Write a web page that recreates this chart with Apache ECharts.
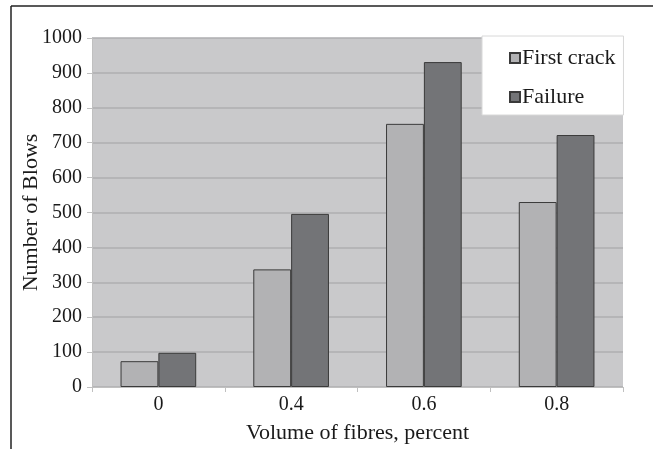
<!DOCTYPE html>
<html><head><meta charset="utf-8">
<script src="https://cdn.jsdelivr.net/npm/echarts@6/dist/echarts.min.js"></script>
<style>html,body{margin:0;padding:0;background:#fff}#c{width:653px;height:449px}</style>
</head><body><div id="c"></div>
<script>
const categories = ['0', '0.4', '0.6', '0.8'];
const firstCrack = [74, 337, 754, 530];
const failure = [98, 496, 931, 722];
const seriesNames = ['First crack', 'Failure'];
const FONT = 'Liberation Serif';
const FS_TICK = 20;
const FS_TEXT = 22;

const chart = echarts.init(document.getElementById('c'), null, {renderer: 'canvas'});
chart.setOption({
  animation: false,
  backgroundColor: '#fff',
  textStyle: {fontFamily: FONT},
  graphic: [
    {type: 'line', shape: {x1: 11, y1: 6, x2: 653, y2: 6}, style: {stroke: '#222', lineWidth: 1.5}},
    {type: 'line', shape: {x1: 11, y1: 6, x2: 11, y2: 449}, style: {stroke: '#222', lineWidth: 1.5}}
  ],
  grid: {left: 92, top: 38, right: 30, bottom: 62, show: true, backgroundColor: '#c9c9cb', borderWidth: 0,
         outerBoundsMode: 'none', containLabel: false},
  legend: {
    orient: 'vertical', left: 482, top: 36,
    backgroundColor: '#fff', borderColor: '#d8d8d8', borderWidth: 1,
    padding: [11, 8, 7, 27], itemGap: 17, itemWidth: 10, itemHeight: 10,
    icon: 'rect',
    textStyle: {fontFamily: FONT, fontSize: FS_TEXT, color: '#1a1a1a', padding: [0, 0, 0, -3]},
    data: seriesNames
  },
  xAxis: {
    type: 'category', data: categories,
    name: 'Volume of fibres, percent', nameLocation: 'middle', nameGap: 35, nameMoveOverlap: false,
    nameTextStyle: {fontFamily: FONT, fontSize: FS_TEXT, color: '#1a1a1a'},
    axisLine: {lineStyle: {color: '#c0c0c0', width: 1}},
    axisTick: {show: true, length: 5, lineStyle: {color: '#c0c0c0'}},
    axisLabel: {fontFamily: FONT, fontSize: FS_TICK, color: '#1a1a1a', margin: 8}
  },
  yAxis: {
    type: 'value', min: 0, max: 1000, interval: 100,
    name: 'Number of Blows', nameLocation: 'middle', nameGap: 50, nameMoveOverlap: false,
    nameTextStyle: {fontFamily: FONT, fontSize: FS_TEXT, color: '#1a1a1a'},
    axisLine: {show: true, lineStyle: {color: '#c0c0c0'}},
    axisTick: {show: true, length: 5, lineStyle: {color: '#c0c0c0'}},
    axisLabel: {fontFamily: FONT, fontSize: FS_TICK, color: '#1a1a1a', margin: 10, formatter: v => String(v)},
    splitLine: {lineStyle: {color: '#aeaeb0', width: 1.5}}
  },
  series: [
    {name: seriesNames[0], type: 'bar', data: firstCrack, barGap: '0%', barCategoryGap: '43%',
     itemStyle: {color: '#b2b2b4', borderColor: '#3a3a3a', borderWidth: 1}},
    {name: seriesNames[1], type: 'bar', data: failure,
     itemStyle: {color: '#737477', borderColor: '#3a3a3a', borderWidth: 1}}
  ]
});
</script></body></html>
